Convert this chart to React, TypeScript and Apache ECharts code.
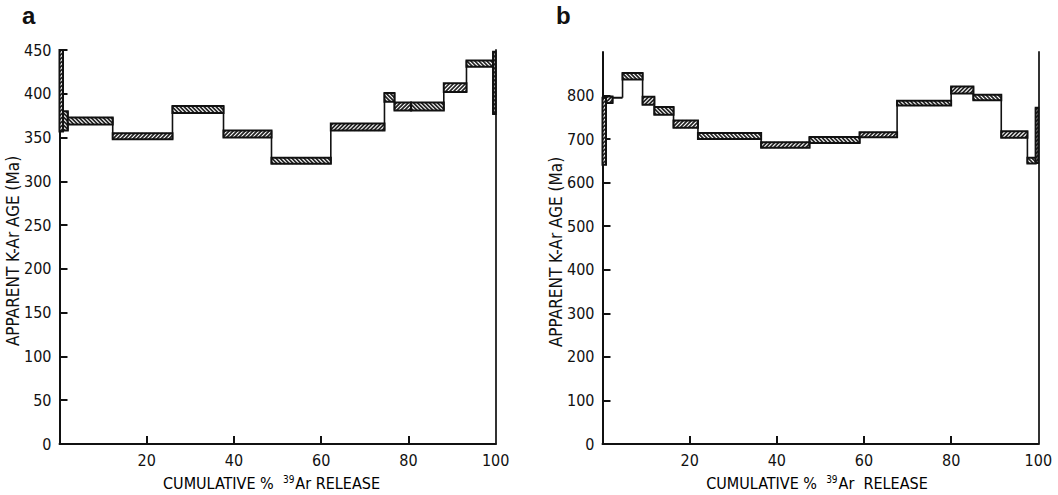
import React, { useEffect, useRef } from "react";
import * as echarts from "echarts";

// Panel a: step edges (cumulative % 39Ar), apparent age band low/high (Ma), hatch direction
const A_EDGES = [0, 0.8, 1.9, 12.2, 25.9, 37.6, 48.6, 62.2, 74.5, 76.8, 80.6, 88.1, 93.3, 99.4, 100];
const A_LOW = [357, 358, 365, 348, 378, 350, 320, 358, 391, 381, 381, 402, 431, 377];
const A_HIGH = [450, 380, 373, 355, 386, 358, 327, 366, 401, 390, 390, 412, 438, 448];
const A_HATCH = ["/", "\\", "\\", "/", "\\", "/", "\\", "/", "\\", "/", "\\", "/", "\\", "/"];
const A_Y_TICKS = [0, 50, 100, 150, 200, 250, 300, 350, 400, 450];

// Panel b
const B_EDGES = [0, 0.8, 2.3, 4.6, 9.2, 11.9, 16.3, 21.9, 36.4, 47.5, 59.0, 67.6, 80.0, 85.1, 91.5, 97.5, 99.4, 100];
const B_LOW = [641, 783, 795, 837, 779, 756, 726, 700, 680, 691, 704, 777, 805, 789, 703, 644, 645];
const B_HIGH = [795, 798, 795, 852, 797, 774, 743, 714, 693, 705, 716, 788, 821, 802, 718, 657, 772];
const B_HATCH = ["/", "/", "/", "\\", "/", "\\", "/", "\\", "/", "\\", "/", "\\", "/", "\\", "/", "\\", "/"];
const B_Y_LABELS = [0, 100, 200, 300, 400, 500, 600, 700, 800];

const X_LABELS = [20, 40, 60, 80, 100];
const X_TICKS = [20, 40, 60, 80];

const FONT = "'Liberation Sans Narrow', 'DejaVu Sans Condensed', sans-serif";
const INK = "#111";

function stepData(edges: number[], low: number[], high: number[], hatch: string[]) {
  return low.map((lo, i) => [edges[i], edges[i + 1], lo, high[i], hatch[i] === "/" ? 1 : -1]);
}

function connectorData(edges: number[], low: number[], high: number[]) {
  const out: number[][] = [];
  for (let i = 0; i < low.length - 1; i++) {
    out.push([edges[i + 1], Math.min(low[i], low[i + 1]), Math.max(high[i], high[i + 1])]);
  }
  return out;
}

function renderStep(_params: any, api: any) {
  const x0 = api.value(0);
  const x1 = api.value(1);
  const lo = api.value(2);
  const hi = api.value(3);
  const dir = api.value(4);
  const p0 = api.coord([x0, hi]);
  const p1 = api.coord([x1, lo]);
  const L = p0[0], T = p0[1], R = p1[0], B = p1[1];
  const children: any[] = [];
  children.push({ type: "rect", shape: { x: L, y: T, width: R - L, height: B - T }, style: { fill: "#fff" } });
  const s = 4;
  const hs = { stroke: "#222", lineWidth: 1.7 };
  if (B - T > 1) {
    if (dir > 0) {
      for (let c = L + T + s / 2; c < R + B; c += s) {
        const xa = Math.max(L, c - B);
        const xb = Math.min(R, c - T);
        if (xb > xa) children.push({ type: "line", shape: { x1: xa, y1: c - xa, x2: xb, y2: c - xb }, style: hs });
      }
    } else {
      for (let c = L - B + s / 2; c < R - T; c += s) {
        const xa = Math.max(L, c + T);
        const xb = Math.min(R, c + B);
        if (xb > xa) children.push({ type: "line", shape: { x1: xa, y1: xa - c, x2: xb, y2: xb - c }, style: hs });
      }
    }
  }
  children.push({
    type: "rect",
    shape: { x: L, y: T, width: R - L, height: B - T },
    style: { fill: "none", stroke: "#111", lineWidth: 2 },
  });
  return { type: "group", children };
}

function renderConnector(_params: any, api: any) {
  const a = api.coord([api.value(0), api.value(1)]);
  const b = api.coord([api.value(0), api.value(2)]);
  return { type: "line", shape: { x1: a[0], y1: a[1], x2: b[0], y2: b[1] }, style: { stroke: "#111", lineWidth: 1.6 } };
}

function xAxis(gridIndex: number) {
  return {
    gridIndex,
    type: "value",
    min: 0,
    max: 100,
    interval: 20,
    splitLine: { show: false },
    axisLine: { show: true, onZero: false, lineStyle: { color: INK, width: 2 } },
    axisTick: { show: true, inside: true, length: 8, customValues: X_TICKS, lineStyle: { color: INK, width: 2 } },
    axisLabel: { customValues: X_LABELS, margin: 8, color: INK, fontFamily: FONT, fontSize: 16 },
  };
}

function yAxisLeft(gridIndex: number, max: number, interval: number, labels: number[], ticks: number[]) {
  return {
    gridIndex,
    type: "value",
    position: "left",
    min: 0,
    max,
    interval,
    splitLine: { show: false },
    axisLine: { show: true, onZero: false, lineStyle: { color: INK, width: 2 } },
    axisTick: { show: true, inside: true, length: 8, customValues: ticks, lineStyle: { color: INK, width: 2 } },
    axisLabel: { customValues: labels, margin: 8, color: INK, fontFamily: FONT, fontSize: 16 },
  };
}

function yAxisRight(gridIndex: number, max: number) {
  return {
    gridIndex,
    type: "value",
    position: "right",
    min: 0,
    max,
    splitLine: { show: false },
    axisLine: { show: true, onZero: false, lineStyle: { color: "#333", width: 2 } },
    axisTick: { show: false },
    axisLabel: { show: false },
  };
}

const xTitleRich = {
  n: { fontFamily: FONT, fontSize: 16, color: INK },
  s: { fontFamily: FONT, fontSize: 10, color: INK, padding: [0, 1, 8, 0] },
};

export default function App() {
  const ref = useRef<HTMLDivElement>(null);
  useEffect(() => {
    if (!ref.current) return;
    const chart = echarts.init(ref.current, null, { renderer: "svg" });
    chart.setOption({
      animation: false,
      backgroundColor: "#fff",
      grid: [
        { left: 59.5, right: 562.3, top: 50, bottom: 51 },
        { left: 602.5, right: 19.7, top: 52, bottom: 51 },
      ],
      xAxis: [xAxis(0), xAxis(1)],
      yAxis: [
        yAxisLeft(0, 450, 50, A_Y_TICKS, A_Y_TICKS.filter((v) => v > 0)),
        yAxisRight(0, 450),
        yAxisLeft(1, 900, 100, B_Y_LABELS, B_Y_LABELS.filter((v) => v > 0)),
        yAxisRight(1, 900),
      ],
      series: [
        {
          type: "custom",
          xAxisIndex: 0,
          yAxisIndex: 0,
          clip: false,
          renderItem: renderConnector,
          data: connectorData(A_EDGES, A_LOW, A_HIGH),
          z: 2,
        },
        {
          type: "custom",
          xAxisIndex: 0,
          yAxisIndex: 0,
          clip: false,
          renderItem: renderStep,
          encode: { x: [0, 1], y: [2, 3] },
          data: stepData(A_EDGES, A_LOW, A_HIGH, A_HATCH),
          z: 3,
        },
        {
          type: "custom",
          xAxisIndex: 1,
          yAxisIndex: 2,
          clip: false,
          renderItem: renderConnector,
          data: connectorData(B_EDGES, B_LOW, B_HIGH),
          z: 2,
        },
        {
          type: "custom",
          xAxisIndex: 1,
          yAxisIndex: 2,
          clip: false,
          renderItem: renderStep,
          encode: { x: [0, 1], y: [2, 3] },
          data: stepData(B_EDGES, B_LOW, B_HIGH, B_HATCH),
          z: 3,
        },
      ],
      graphic: [
        { type: "text", left: 22, top: 3, style: { text: "a", fontFamily: "'Liberation Sans', Arial, sans-serif", fontWeight: "bold", fontSize: 24, fill: "#111" } },
        { type: "text", left: 556, top: 3, style: { text: "b", fontFamily: "'Liberation Sans', Arial, sans-serif", fontWeight: "bold", fontSize: 24, fill: "#111" } },
        {
          type: "text", x: 13, y: 251, rotation: Math.PI / 2,
          style: { text: "APPARENT K-Ar AGE (Ma)", fontFamily: FONT, fontSize: 17, fill: INK, align: "center", verticalAlign: "middle" },
        },
        {
          type: "text", x: 556, y: 252, rotation: Math.PI / 2,
          style: { text: "APPARENT K-Ar AGE (Ma)", fontFamily: FONT, fontSize: 17, fill: INK, align: "center", verticalAlign: "middle" },
        },
        {
          type: "text", x: 271.5, y: 483,
          style: { text: "{n|CUMULATIVE %  }{s|39}{n|Ar RELEASE}", rich: xTitleRich, align: "center", verticalAlign: "middle" },
        },
        {
          type: "text", x: 817, y: 483,
          style: { text: "{n|CUMULATIVE %  }{s|39}{n|Ar  RELEASE}", rich: xTitleRich, align: "center", verticalAlign: "middle" },
        },
      ],
    });
    return () => chart.dispose();
  }, []);
  return <div ref={ref} style={{ position: "fixed", left: 0, top: 0, width: 1058, height: 495 }} />;
}
